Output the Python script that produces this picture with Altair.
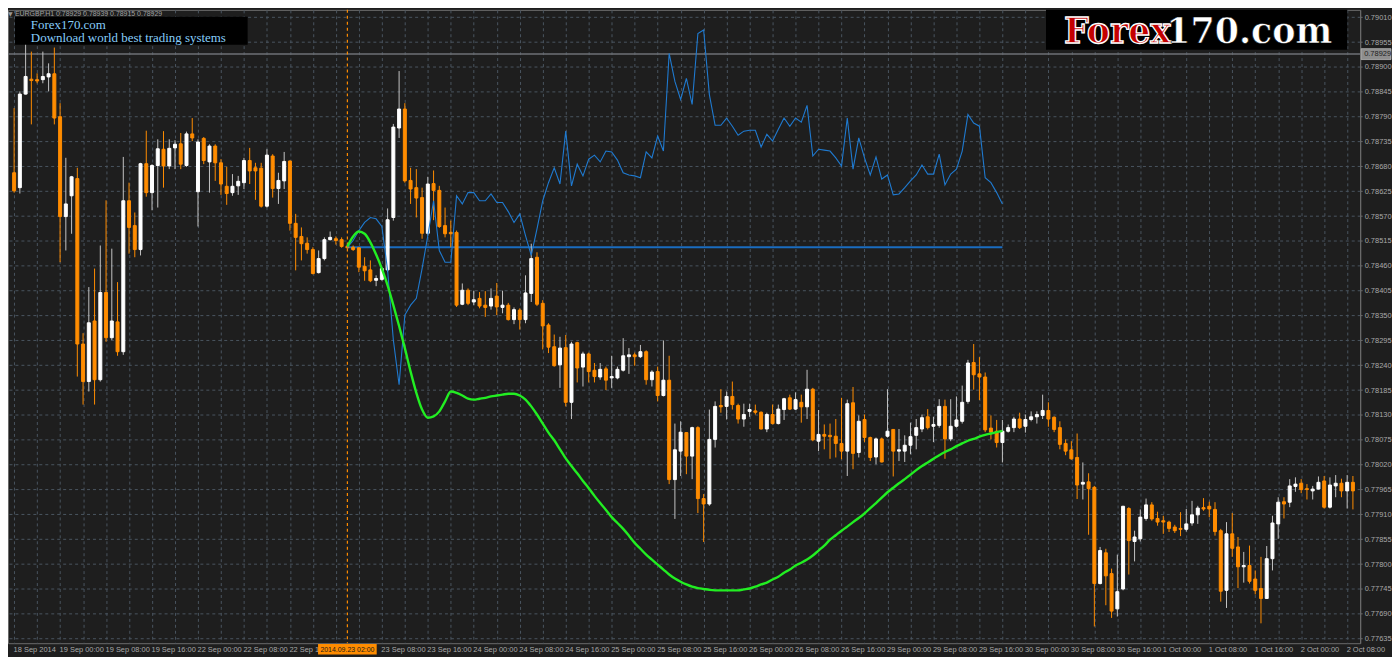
import json
import altair as alt
import pandas as pd

# ---------------- data (prices in points, 1 point = 0.00001) ----------------
OPEN_PTS = [
    78666, 78633, 78840, 78873, 78872, 78872, 78878, 78885, 78790, 78569,
    78615, 78653, 78287, 78204, 78338, 78208, 78401, 78301, 78336, 78270,
    78604, 78549, 78496, 78686, 78622, 78682, 78718, 78681, 78721, 78730,
    78682, 78752, 78624, 78742, 78690, 78725, 78688, 78636, 78622, 78637,
    78644, 78693, 78677, 78676, 78592, 78703, 78631, 78648, 78692, 78554,
    78525, 78510, 78496, 78445, 78476, 78518, 78520, 78518, 78503, 78501,
    78500, 78459, 78451, 78428, 78430, 78451, 78567, 78765, 78807, 78649,
    78633, 78611, 78532, 78642, 78627, 78549, 78534, 78534, 78375, 78406,
    78380, 78388, 78373, 78371, 78393, 78368, 78373, 78341, 78362, 78341,
    78399, 78479, 78377, 78329, 78281, 78241, 78279, 78158, 78290, 78236,
    78265, 78229, 78214, 78232, 78212, 78212, 78229, 78259, 78263, 78259,
    78270, 78208, 78226, 78173, 78207, 77987, 78050, 78091, 78039, 78102,
    77945, 77933, 78076, 78151, 78149, 78171, 78151, 78121, 78138, 78139,
    78136, 78099, 78131, 78111, 78142, 78168, 78143, 78158, 78148, 78187,
    78072, 78087, 78085, 78083, 78067, 78050, 78157, 78047, 78120, 78080,
    78037, 78077, 78083, 78098, 78050, 78050, 78063, 78085, 78099, 78126,
    78105, 78107, 78149, 78077, 78105, 78116, 78160, 78246, 78221, 78214,
    78101, 78094, 78069, 78094, 78102, 78121, 78105, 78120, 78126, 78129,
    78140, 78125, 78102, 78067, 78053, 78036, 77977, 77982, 77970, 77757,
    77825, 77779, 77701, 77745, 77923, 77850, 77856, 77901, 77931, 77901,
    77896, 77893, 77882, 77879, 77877, 77891, 77909, 77925, 77928, 77921,
    77874, 77742, 77867, 77838, 77794, 77797, 77767, 77746, 77724, 77812,
    77889, 77938, 77937, 77972, 77979, 77967, 77962, 77966, 77984, 77926,
    77973, 77979, 77962, 77981,
]
HIGH_PTS = [
    78809, 78846, 78960, 78934, 78886, 78934, 78908, 78943, 78820, 78699,
    78659, 78677, 78311, 78413, 78454, 78505, 78605, 78498, 78424, 78701,
    78644, 78578, 78688, 78759, 78685, 78740, 78758, 78740, 78738, 78754,
    78757, 78787, 78740, 78745, 78729, 78729, 78696, 78679, 78663, 78659,
    78699, 78721, 78688, 78688, 78718, 78707, 78666, 78712, 78693, 78575,
    78545, 78523, 78501, 78494, 78523, 78536, 78525, 78523, 78507, 78505,
    78501, 78479, 78472, 78439, 78457, 78587, 78774, 78891, 78820, 78677,
    78674, 78633, 78657, 78671, 78637, 78589, 78560, 78538, 78421, 78410,
    78405, 78402, 78404, 78410, 78422, 78405, 78378, 78368, 78366, 78439,
    78509, 78490, 78384, 78333, 78308, 78303, 78307, 78292, 78292, 78270,
    78268, 78245, 78245, 78237, 78261, 78237, 78300, 78278, 78268, 78285,
    78273, 78229, 78237, 78295, 78261, 78111, 78116, 78092, 78104, 78105,
    77955, 78142, 78160, 78187, 78182, 78204, 78155, 78155, 78155, 78153,
    78138, 78135, 78153, 78153, 78168, 78175, 78180, 78175, 78230, 78190,
    78141, 78109, 78111, 78121, 78168, 78164, 78192, 78129, 78131, 78082,
    78080, 78080, 78187, 78099, 78099, 78085, 78113, 78121, 78131, 78143,
    78126, 78165, 78164, 78165, 78171, 78195, 78252, 78287, 78258, 78224,
    78129, 78119, 78119, 78109, 78126, 78135, 78131, 78138, 78138, 78175,
    78158, 78127, 78116, 78076, 78072, 78089, 78025, 78001, 77973, 77838,
    77834, 77790, 77821, 77929, 77926, 77874, 77921, 77945, 77937, 77916,
    77907, 77896, 77887, 77915, 77922, 77940, 77929, 77946, 77938, 77937,
    77878, 77893, 77913, 77860, 77827, 77841, 77786, 77816, 77840, 77907,
    77948, 77948, 77988, 77992, 77988, 77977, 77973, 77994, 77995, 77992,
    77997, 77989, 77997, 77995,
]
LOW_PTS = [
    78622, 78620, 78839, 78773, 78864, 78864, 78846, 78773, 78468, 78494,
    78531, 78215, 78153, 78182, 78153, 78204, 78292, 78296, 78261, 78263,
    78487, 78479, 78483, 78613, 78583, 78589, 78633, 78674, 78674, 78674,
    78679, 78736, 78547, 78685, 78622, 78648, 78617, 78595, 78615, 78617,
    78630, 78641, 78606, 78589, 78589, 78611, 78597, 78630, 78538, 78450,
    78472, 78487, 78441, 78443, 78472, 78516, 78507, 78500, 78498, 78493,
    78446, 78427, 78424, 78415, 78427, 78446, 78560, 78743, 78644, 78597,
    78567, 78520, 78527, 78561, 78544, 78523, 78501, 78369, 78373, 78373,
    78373, 78366, 78347, 78363, 78351, 78355, 78339, 78331, 78319, 78333,
    78380, 78371, 78275, 78267, 78237, 78190, 78149, 78121, 78202, 78193,
    78202, 78202, 78208, 78185, 78190, 78209, 78226, 78221, 78239, 78256,
    78197, 78193, 78160, 78171, 77977, 77900, 77995, 77999, 77988, 77913,
    77849, 77929, 78058, 78135, 78120, 78142, 78111, 78104, 78126, 78131,
    78098, 78092, 78109, 78109, 78119, 78141, 78141, 78113, 78121, 78072,
    78050, 78054, 78033, 78036, 78032, 77995, 78010, 78036, 78070, 78028,
    78021, 78025, 78080, 77994, 78028, 78026, 78043, 78054, 78092, 78098,
    78070, 78102, 78033, 78072, 78102, 78111, 78155, 78186, 78163, 78092,
    78076, 78058, 78025, 78091, 78092, 78099, 78091, 78116, 78111, 78121,
    78104, 78092, 78054, 78041, 78031, 77944, 77943, 77865, 77662, 77755,
    77709, 77681, 77684, 77742, 77777, 77806, 77850, 77896, 77896, 77885,
    77867, 77871, 77869, 77862, 77872, 77885, 77889, 77918, 77904, 77863,
    77717, 77703, 77816, 77747, 77759, 77757, 77733, 77669, 77723, 77786,
    77856, 77901, 77926, 77960, 77957, 77943, 77943, 77965, 77923, 77923,
    77948, 77948, 77923, 77921,
]
CLOSE_PTS = [
    78626, 78840, 78879, 78870, 78869, 78879, 78885, 78787, 78569, 78597,
    78657, 78287, 78204, 78334, 78208, 78401, 78301, 78338, 78270, 78604,
    78545, 78496, 78686, 78622, 78682, 78719, 78681, 78720, 78729, 78685,
    78752, 78743, 78734, 78693, 78725, 78688, 78641, 78620, 78636, 78647,
    78693, 78670, 78670, 78592, 78705, 78631, 78649, 78691, 78554, 78523,
    78509, 78496, 78443, 78476, 78518, 78523, 78516, 78503, 78500, 78496,
    78457, 78449, 78427, 78432, 78454, 78562, 78767, 78807, 78648, 78630,
    78610, 78532, 78641, 78627, 78547, 78531, 78531, 78373, 78406, 78377,
    78385, 78371, 78368, 78388, 78369, 78373, 78341, 78363, 78341, 78400,
    78476, 78375, 78327, 78280, 78239, 78278, 78158, 78287, 78234, 78265,
    78226, 78215, 78231, 78207, 78215, 78231, 78261, 78263, 78259, 78270,
    78208, 78225, 78173, 78207, 77987, 78053, 78092, 78039, 78102, 77945,
    77933, 78076, 78149, 78148, 78171, 78153, 78121, 78131, 78142, 78136,
    78099, 78131, 78111, 78143, 78166, 78143, 78164, 78148, 78187, 78075,
    78087, 78083, 78082, 78067, 78050, 78155, 78045, 78116, 78080, 78036,
    78077, 78026, 78094, 78050, 78053, 78063, 78082, 78102, 78124, 78102,
    78109, 78149, 78077, 78105, 78119, 78158, 78245, 78219, 78214, 78097,
    78092, 78069, 78094, 78102, 78121, 78102, 78120, 78126, 78131, 78140,
    78121, 78098, 78065, 78050, 78033, 77975, 77981, 77967, 77757, 77830,
    77774, 77696, 77739, 77928, 77852, 77860, 77904, 77931, 77900, 77893,
    77893, 77879, 77874, 77877, 77889, 77909, 77924, 77922, 77922, 77872,
    77740, 77867, 77835, 77794, 77797, 77762, 77742, 77724, 77812, 77891,
    77937, 77933, 77973, 77977, 77965, 77965, 77966, 77981, 77926, 77975,
    77979, 77962, 77981, 77962,
]

IND_START = 58  # first bar of the indicator lines (crosshair bar)
BLUE_PTS = [
    78501, 78516, 78538, 78556, 78567, 78564, 78547, 78450, 78296, 78197,
    78351, 78373, 78388, 78454, 78527, 78604, 78494, 78468, 78468, 78615,
    78597, 78622, 78622, 78604, 78604, 78619, 78600, 78600, 78580, 78556,
    78575, 78527, 78483, 78542, 78604, 78644, 78677, 78641, 78758, 78637,
    78685, 78659, 78696, 78705, 78690, 78714, 78712, 78694, 78666, 78661,
    78659, 78655, 78712, 78699, 78747, 78714, 78930, 78868, 78828, 78875,
    78817, 78974, 78982, 78839, 78771, 78771, 78787, 78769, 78749, 78758,
    78760, 78760, 78723, 78751, 78736, 78762, 78787, 78769, 78787, 78778,
    78815, 78703, 78718, 78716, 78714, 78699, 78681, 78787, 78674, 78743,
    78699, 78661, 78701, 78652, 78661, 78617, 78619, 78633, 78648, 78661,
    78683, 78663, 78663, 78707, 78639, 78663, 78674, 78714, 78795, 78776,
    78769, 78655, 78644, 78622, 78597,
]
GREEN_PTS = [
    78503, 78525, 78536, 78531, 78512, 78485, 78454, 78417, 78373, 78327,
    78278, 78226, 78179, 78142, 78124, 78127, 78138, 78160, 78182, 78179,
    78173, 78166, 78164, 78166, 78168, 78171, 78173, 78175, 78177, 78177,
    78173, 78164, 78149, 78131, 78111, 78091, 78074, 78054, 78034, 78017,
    78001, 77984, 77968, 77951, 77935, 77920, 77904, 77891, 77878, 77863,
    77847, 77834, 77821, 77810, 77799, 77788, 77777, 77768, 77761, 77755,
    77750, 77747, 77745, 77743, 77742, 77742, 77742, 77742, 77742, 77744,
    77746, 77750, 77755, 77759, 77766, 77772, 77781, 77788, 77797, 77803,
    77810, 77819, 77830, 77841, 77854, 77864, 77874, 77883, 77893, 77902,
    77912, 77924, 77935, 77947, 77959, 77969, 77979, 77988, 77998, 78008,
    78017, 78025, 78033, 78041, 78048, 78054, 78061, 78067, 78073, 78077,
    78082, 78086, 78089, 78092, 78095,
]
LEVEL_PRICE = 0.78501
BID_PRICE = 0.78929
CROSS_BAR = 58
CROSS_LABEL = "2014.09.23 02:00"
INFO_TEXT = "EURGBP,H1  0.78929 0.78939 0.78915 0.78929"
BOX_LINES = ["Forex170.com", "Download world best trading systems"]
LOGO = ["Forex", "170.com"]

# time labels every 8 bars; the ones under the crosshair tag show only their visible part
TIME_LABELS = [
    "18 Sep 2014", "19 Sep 00:00", "19 Sep 08:00", "19 Sep 16:00",
    "22 Sep 00:00", "22 Sep 08:00", "22 Sep 16", "",
    "23 Sep 08:00", "23 Sep 16:00", "24 Sep 00:00", "24 Sep 08:00",
    "24 Sep 16:00", "25 Sep 00:00", "25 Sep 08:00", "25 Sep 16:00",
    "26 Sep 00:00", "26 Sep 08:00", "26 Sep 16:00", "29 Sep 00:00",
    "29 Sep 08:00", "29 Sep 16:00", "30 Sep 00:00", "30 Sep 08:00",
    "30 Sep 16:00", "1 Oct 00:00", "1 Oct 08:00", "1 Oct 16:00",
    "2 Oct 00:00", "2 Oct 08:00",
]
PRICE_TICKS = [
    0.77635, 0.77690, 0.77745, 0.77800, 0.77855, 0.77910, 0.77965, 0.78020,
    0.78075, 0.78130, 0.78185, 0.78240, 0.78295, 0.78350, 0.78405, 0.78460,
    0.78515, 0.78570, 0.78625, 0.78680, 0.78735, 0.78790, 0.78845, 0.78900,
    0.78955, 0.79010,
]

# ---------------- styling ----------------
BG = "#1e1e1e"
GRID = "#4a5560"
FRAME = "#6c6c6c"
LBL = "#a8a8a8"
BULL = "#ffffff"
BULL_WICK = "#c4c4c4"
BEAR = "#ff8c00"
BLUE = "#1f7ad0"
BLUE_LEVEL = "#1a6cc0"
GREEN = "#22ee22"
FONT = "Liberation Sans"
W, H = 1360, 637

n = len(OPEN_PTS)
candles = pd.DataFrame({
    "bar": list(range(n)),
    "open": [v / 1e5 for v in OPEN_PTS],
    "high": [v / 1e5 for v in HIGH_PTS],
    "low": [v / 1e5 for v in LOW_PTS],
    "close": [v / 1e5 for v in CLOSE_PTS],
})
candles["dir"] = ["bull" if c >= o else "bear" for o, c in zip(OPEN_PTS, CLOSE_PTS)]

ind = pd.DataFrame({
    "bar": list(range(IND_START, IND_START + len(BLUE_PTS))),
    "blue": [v / 1e5 for v in BLUE_PTS],
    "green": [v / 1e5 for v in GREEN_PTS],
})
level = pd.DataFrame({"b0": [IND_START], "b1": [IND_START + len(BLUE_PTS) - 1], "p": [LEVEL_PRICE]})
one = pd.DataFrame({"k": [0]})

x_scale = alt.Scale(domain=[-0.2, 233.4], nice=False, zero=False)
y_scale = alt.Scale(domain=[0.77625, 0.790264], nice=False, zero=False)

label_expr = ("datum.value % 8 == 0 ? " + json.dumps(TIME_LABELS)
              + "[floor(datum.value / 8)] : ''")
x_axis = alt.Axis(
    values=list(range(0, n, 4)), labelExpr=label_expr, title=None,
    grid=True, gridColor=GRID, gridDash=[3, 3], gridWidth=1,
    ticks=False, domain=False, labelAlign="left", labelBaseline="top",
    labelPadding=2, labelOffset=-1, labelFont=FONT, labelFontSize=7.5, labelColor=LBL,
    labelOverlap=False, labelFlush=False,
)
y_axis = alt.Axis(
    values=PRICE_TICKS, format=".5f", orient="right", title=None,
    grid=True, gridColor=GRID, gridDash=[3, 3], gridWidth=1,
    ticks=True, tickSize=2, tickColor=FRAME, domain=True, domainColor=FRAME,
    labelPadding=2, labelFont=FONT, labelFontSize=7.5, labelColor=LBL,
    labelOverlap=False, labelFlush=False,
)


def X(field):
    return alt.X(field, type="quantitative", scale=x_scale, axis=x_axis)


def Y(field):
    return alt.Y(field, type="quantitative", scale=y_scale, axis=y_axis)


base = alt.Chart(candles)

wick_bull = base.transform_filter(alt.datum.dir == "bull").mark_rule(
    color=BULL_WICK, strokeWidth=1, clip=True).encode(x=X("bar"), y=Y("low"), y2="high")
wick_bear = base.transform_filter(alt.datum.dir == "bear").mark_rule(
    color=BEAR, strokeWidth=1, clip=True).encode(x=X("bar"), y=Y("low"), y2="high")
body_bull = base.transform_filter(alt.datum.dir == "bull").mark_bar(
    size=3, color=BULL, stroke=BULL, strokeWidth=1, clip=True).encode(x=X("bar"), y=Y("open"), y2="close")
body_bear = base.transform_filter(alt.datum.dir == "bear").mark_bar(
    size=3, color=BEAR, stroke=BEAR, strokeWidth=1, clip=True).encode(x=X("bar"), y=Y("open"), y2="close")

bid_line = alt.Chart(one).mark_rule(color="#6e7176", strokeWidth=1.5).encode(
    y=alt.YDatum(BID_PRICE, scale=y_scale, axis=y_axis))
cross_line = alt.Chart(one).mark_rule(color=BEAR, strokeWidth=1.2, strokeDash=[3, 3]).encode(
    x=alt.XDatum(CROSS_BAR, scale=x_scale, axis=x_axis))
level_line = alt.Chart(level).mark_rule(color=BLUE_LEVEL, strokeWidth=2).encode(
    x=X("b0"), x2="b1", y=Y("p"))
blue_line = alt.Chart(ind).mark_line(color=BLUE, strokeWidth=1.1).encode(x=X("bar"), y=Y("blue"))
green_line = alt.Chart(ind).mark_line(color=GREEN, strokeWidth=2.4, interpolate="monotone").encode(
    x=X("bar"), y=Y("green"))

# crosshair time tag at the bottom
cross_box = alt.Chart(one).mark_point(
    shape="M-1,-0.18H1V0.18H-1Z", size=3481, filled=True, opacity=1, color=BEAR, strokeWidth=0
).encode(x=alt.XDatum(CROSS_BAR, scale=x_scale, axis=x_axis), y=alt.value(643))
cross_text = alt.Chart(one).mark_text(
    text=CROSS_LABEL, font=FONT, fontSize=7, color="#1a1a1a", align="center", baseline="middle"
).encode(x=alt.XDatum(CROSS_BAR, scale=x_scale, axis=x_axis), y=alt.value(643.5))

# bid price tag on the right axis
bid_box = alt.Chart(one).mark_rect(color="#8e8e8e", stroke="#cfcfcf", strokeWidth=0.6).encode(
    x=alt.value(1361), x2=alt.value(1391), y=alt.value(39), y2=alt.value(50))
bid_text = alt.Chart(one).mark_text(
    text=f"{BID_PRICE:.5f}", font=FONT, fontSize=7.5, color="#1e1e1e", align="left", baseline="middle"
).encode(x=alt.value(1364), y=alt.YDatum(BID_PRICE, scale=y_scale, axis=y_axis))

# top-left info line
info_tri = alt.Chart(one).mark_text(
    text="▼", font="DejaVu Sans", fontSize=6, color="#9a9a9a", align="left", baseline="top"
).encode(x=alt.value(0), y=alt.value(1))
info_text = alt.Chart(one).mark_text(
    text=INFO_TEXT, font=FONT, fontSize=7, color="#a0a0a0", align="left", baseline="top"
).encode(x=alt.value(7), y=alt.value(0))

# black caption box
cap_box = alt.Chart(one).mark_rect(color="#000000").encode(
    x=alt.value(7), x2=alt.value(241), y=alt.value(7), y2=alt.value(35))
cap_l1 = alt.Chart(one).mark_text(
    text=BOX_LINES[0], font="Liberation Serif", fontSize=13, color="#87cefa", align="left",
    baseline="alphabetic").encode(x=alt.value(23), y=alt.value(19))
cap_l2 = alt.Chart(one).mark_text(
    text=BOX_LINES[1], font="Liberation Serif", fontSize=13, color="#87cefa", align="left",
    baseline="alphabetic").encode(x=alt.value(23), y=alt.value(32))

# logo
logo_box = alt.Chart(one).mark_rect(color="#000000").encode(
    x=alt.value(1044), x2=alt.value(1347), y=alt.value(0), y2=alt.value(40))
logo_a = alt.Chart(one).mark_text(
    text=LOGO[0], font="DejaVu Serif", fontWeight="bold", fontSize=35, color="#c40000",
    stroke="#ffffff", strokeWidth=1.3, align="left", baseline="alphabetic"
).encode(x=alt.value(1062), y=alt.value(33))
logo_b = alt.Chart(one).mark_text(
    text=LOGO[1], font="DejaVu Serif", fontWeight="bold", fontSize=35, color="#ffffff",
    stroke="#000000", strokeWidth=0.6, align="left", baseline="alphabetic"
).encode(x=alt.value(1165), y=alt.value(33))

chart = alt.layer(
    bid_line, cross_line, level_line,
    wick_bull, wick_bear, body_bull, body_bear,
    blue_line, green_line,
    cross_box, cross_text, bid_box, bid_text,
    info_tri, info_text, cap_box, cap_l1, cap_l2,
    logo_box, logo_a, logo_b,
).properties(
    width=W, height=H,
    autosize=alt.AutoSizeParams(type="none"),
    padding={"left": 0, "top": 0, "right": 32, "bottom": 12},
).configure(
    background=BG, font=FONT,
).configure_view(
    fill=BG, stroke=FRAME, strokeWidth=1,
)

chart.save("out.html", embed_options={"renderer": "svg", "actions": False})
